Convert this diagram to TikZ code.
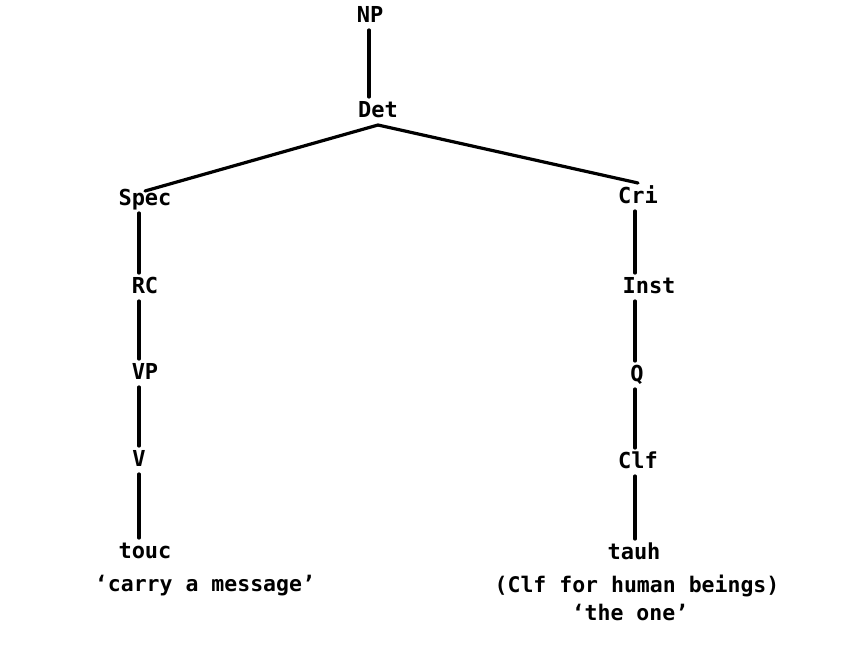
\documentclass[tikz,border=0pt]{standalone}
\usepackage{fontspec}
\setmonofont{DejaVu Sans Mono}
\begin{document}
\begin{tikzpicture}[x=1pt,y=-1pt,
  lbl/.style={font=\ttfamily\bfseries\fontsize{22}{24}\selectfont,
    inner sep=0pt, outer sep=4pt, text height=16pt, text depth=4pt},
  gloss/.style={font=\ttfamily\bfseries\fontsize{21.5}{24}\selectfont, inner sep=0pt},
  branch/.style={line width=3.2pt, line cap=round}]
\path[use as bounding box] (0,0) rectangle (841,648);

% tree labels
\node[lbl] (NP)   at (370,16)  {NP};
\node[lbl] (Det)  at (378,111) {Det};
\node[lbl] (Spec) at (145,199) {Spec};
\node[lbl] (RC)   at (145,287) {RC};
\node[lbl] (VP)   at (145,373) {VP};
\node[lbl] (V)    at (139,460) {V};
\node[lbl] (touc) at (145,552) {touc};
\node[lbl] (Cri)  at (638,197) {Cri};
\node[lbl] (Inst) at (649,287) {Inst};
\node[lbl] (Q)    at (637,375) {Q};
\node[lbl] (Clf)  at (638,462) {Clf};
\node[lbl] (tauh) at (634,553) {tauh};

% glosses
\node[gloss] (g1) at (205,586) {‘carry a message’};
\node[gloss] (g2) at (637,586) {(Clf for human beings)};
\node[gloss] (g3) at (630,612) {‘the one’};

% vertical spines of the two branches
\coordinate (top)   at (369,0);
\coordinate (left)  at (139,0);
\coordinate (right) at (635,0);

\draw[branch] (NP.south -| top) -- (Det.north -| top);
\draw[branch] (Det.south) -- ([yshift=-6pt]Spec.north);
\draw[branch] (Det.south) -- (Cri.north);

\draw[branch] (Spec.south -| left) -- (RC.north -| left);
\draw[branch] (RC.south -| left) -- (VP.north -| left);
\draw[branch] (VP.south -| left) -- (V.north -| left);
\draw[branch] (V.south -| left) -- (touc.north -| left);

\draw[branch] (Cri.south -| right) -- (Inst.north -| right);
\draw[branch] (Inst.south -| right) -- (Q.north -| right);
\draw[branch] (Q.south -| right) -- (Clf.north -| right);
\draw[branch] (Clf.south -| right) -- (tauh.north -| right);
\end{tikzpicture}
\end{document}
